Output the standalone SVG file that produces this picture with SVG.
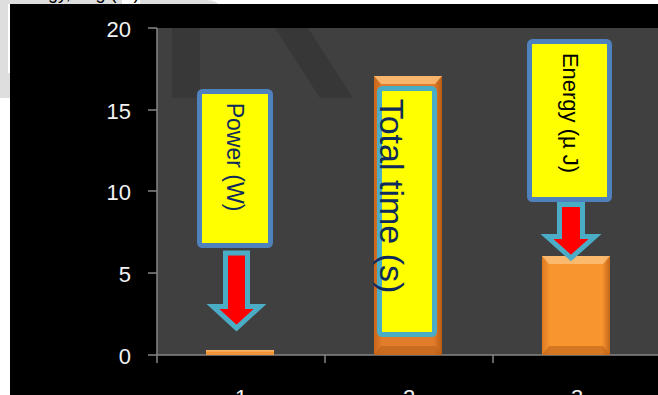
<svg xmlns="http://www.w3.org/2000/svg" width="658" height="395" viewBox="0 0 658 395">
  <defs>
    <style>
      .axis { stroke: #868686; stroke-width: 1.5; fill: none; }
      .tick-label { font-family: "Liberation Sans", Arial, sans-serif; font-size: 22px; fill: #f2f2f2; }
      .callout-blue { fill: #ffff00; stroke: #4f81bd; stroke-width: 5; }
      .callout-teal { fill: #ffff00; stroke: #4bacc6; stroke-width: 5; }
      .arrow { fill: #ff0000; stroke: #4bacc6; stroke-width: 5; stroke-linejoin: miter; stroke-miterlimit: 10; }
      .lbl { font-family: "Liberation Sans", Arial, sans-serif; }
      .bevel-top { fill: #fbbf78; opacity: 0.85; }
      .bevel-bot { fill: #b85f17; opacity: 0.55; }
      .bevel-side { fill: #a8540f; opacity: 0.45; }
    </style>
    <linearGradient id="barA" x1="0" y1="0" x2="1" y2="0">
      <stop offset="0" stop-color="#c9661a"/>
      <stop offset="0.12" stop-color="#e17c2a"/>
      <stop offset="0.88" stop-color="#e17c2a"/>
      <stop offset="1" stop-color="#b85c14"/>
    </linearGradient>
    <linearGradient id="barB" x1="0" y1="0" x2="1" y2="0">
      <stop offset="0" stop-color="#dc7a22"/>
      <stop offset="0.12" stop-color="#f8952f"/>
      <stop offset="0.88" stop-color="#f8952f"/>
      <stop offset="1" stop-color="#c4661a"/>
    </linearGradient>
  </defs>

  <!-- page background fragments -->
  <g id="page">
    <rect x="0" y="0" width="658" height="395" fill="#ffffff"/>
    <rect x="0" y="0" width="122" height="98" fill="#dedede"/>
    <rect x="8" y="4" width="20" height="69" fill="#ffffff"/>
    <path d="M140 0 H205 Q215 0 218 4 H140 Z" fill="#dedede"/>
    <text x="10" y="-1" class="lbl" font-size="18" fill="#000">Energy, Avg (W)</text>
  </g>

  <!-- chart background -->
  <g id="chart-area">
    <rect x="10" y="4" width="648" height="391" fill="#000000"/>
    <rect x="157" y="28" width="501" height="327" fill="#404040"/>
    <rect x="172" y="28" width="28" height="70" fill="#383838"/>
    <polygon points="275,28 308,28 353,98 320,98" fill="#373737"/>
  </g>

  <!-- axes -->
  <g id="axes">
    <line class="axis" x1="157" y1="28" x2="157" y2="355"/>
    <line class="axis" x1="157" y1="355" x2="658" y2="355"/>
    <line class="axis" x1="148" y1="28" x2="157" y2="28"/>
    <line class="axis" x1="148" y1="110" x2="157" y2="110"/>
    <line class="axis" x1="148" y1="191" x2="157" y2="191"/>
    <line class="axis" x1="148" y1="273" x2="157" y2="273"/>
    <line class="axis" x1="148" y1="355" x2="157" y2="355"/>
    <line class="axis" x1="157" y1="355" x2="157" y2="363"/>
    <line class="axis" x1="325" y1="355" x2="325" y2="363"/>
    <line class="axis" x1="493" y1="355" x2="493" y2="363"/>
    <text class="tick-label" x="131" y="37" text-anchor="end">20</text>
    <text class="tick-label" x="131" y="119" text-anchor="end">15</text>
    <text class="tick-label" x="131" y="200" text-anchor="end">10</text>
    <text class="tick-label" x="131" y="282" text-anchor="end">5</text>
    <text class="tick-label" x="131" y="364" text-anchor="end">0</text>
    <text class="tick-label" x="241" y="405" text-anchor="middle">1</text>
    <text class="tick-label" x="409" y="405" text-anchor="middle">2</text>
    <text class="tick-label" x="577" y="405" text-anchor="middle">3</text>
  </g>

  <!-- bars -->
  <g id="bar-1">
    <rect x="206" y="350" width="68" height="5" fill="#f0953a"/>
    <rect x="206" y="350" width="68" height="1.5" fill="#f8b36a"/>
  </g>
  <g id="bar-2">
    <rect x="374" y="76" width="68" height="279" fill="url(#barA)"/>
    <polygon class="bevel-top" points="374,76 442,76 435,84 381,84"/>
    <polygon class="bevel-bot" points="374,355 442,355 435,346 381,346"/>
  </g>
  <g id="bar-3">
    <rect x="542" y="256" width="68" height="99" fill="url(#barB)"/>
    <polygon class="bevel-top" points="542,256 610,256 603,264 549,264"/>
    <polygon class="bevel-bot" points="542,355 610,355 603,346 549,346"/>
  </g>

  <!-- callouts -->
  <g id="callout-power">
    <rect class="callout-blue" x="199.5" y="91.5" width="71" height="154" rx="3"/>
    <text class="lbl" transform="translate(227,157) rotate(90)" text-anchor="middle" font-size="23" fill="#0f2a5c">Power (W)</text>
  </g>
  <g id="callout-time">
    <rect class="callout-teal" x="379.5" y="88.5" width="55" height="246" rx="3"/>
    <text class="lbl" transform="translate(380,196) rotate(90)" text-anchor="middle" font-size="34" fill="#0f2a5c">Total time (s)</text>
  </g>
  <g id="callout-energy">
    <rect class="callout-blue" x="529.5" y="41.5" width="80" height="158" rx="3"/>
    <text class="lbl" transform="translate(562.5,113) rotate(90)" text-anchor="middle" font-size="22" fill="#000000">Energy (µ J)</text>
  </g>

  <!-- connectors (block arrows) -->
  <g id="connectors">
    <polygon class="arrow" points="225.5,253 247.5,253 247.5,306.5 260,306.5 236.5,328 213,306.5 225.5,306.5"/>
    <polygon class="arrow" points="559.5,204.5 582.5,204.5 582.5,236.5 595,236.5 571,258 547,236.5 559.5,236.5"/>
  </g>
</svg>
